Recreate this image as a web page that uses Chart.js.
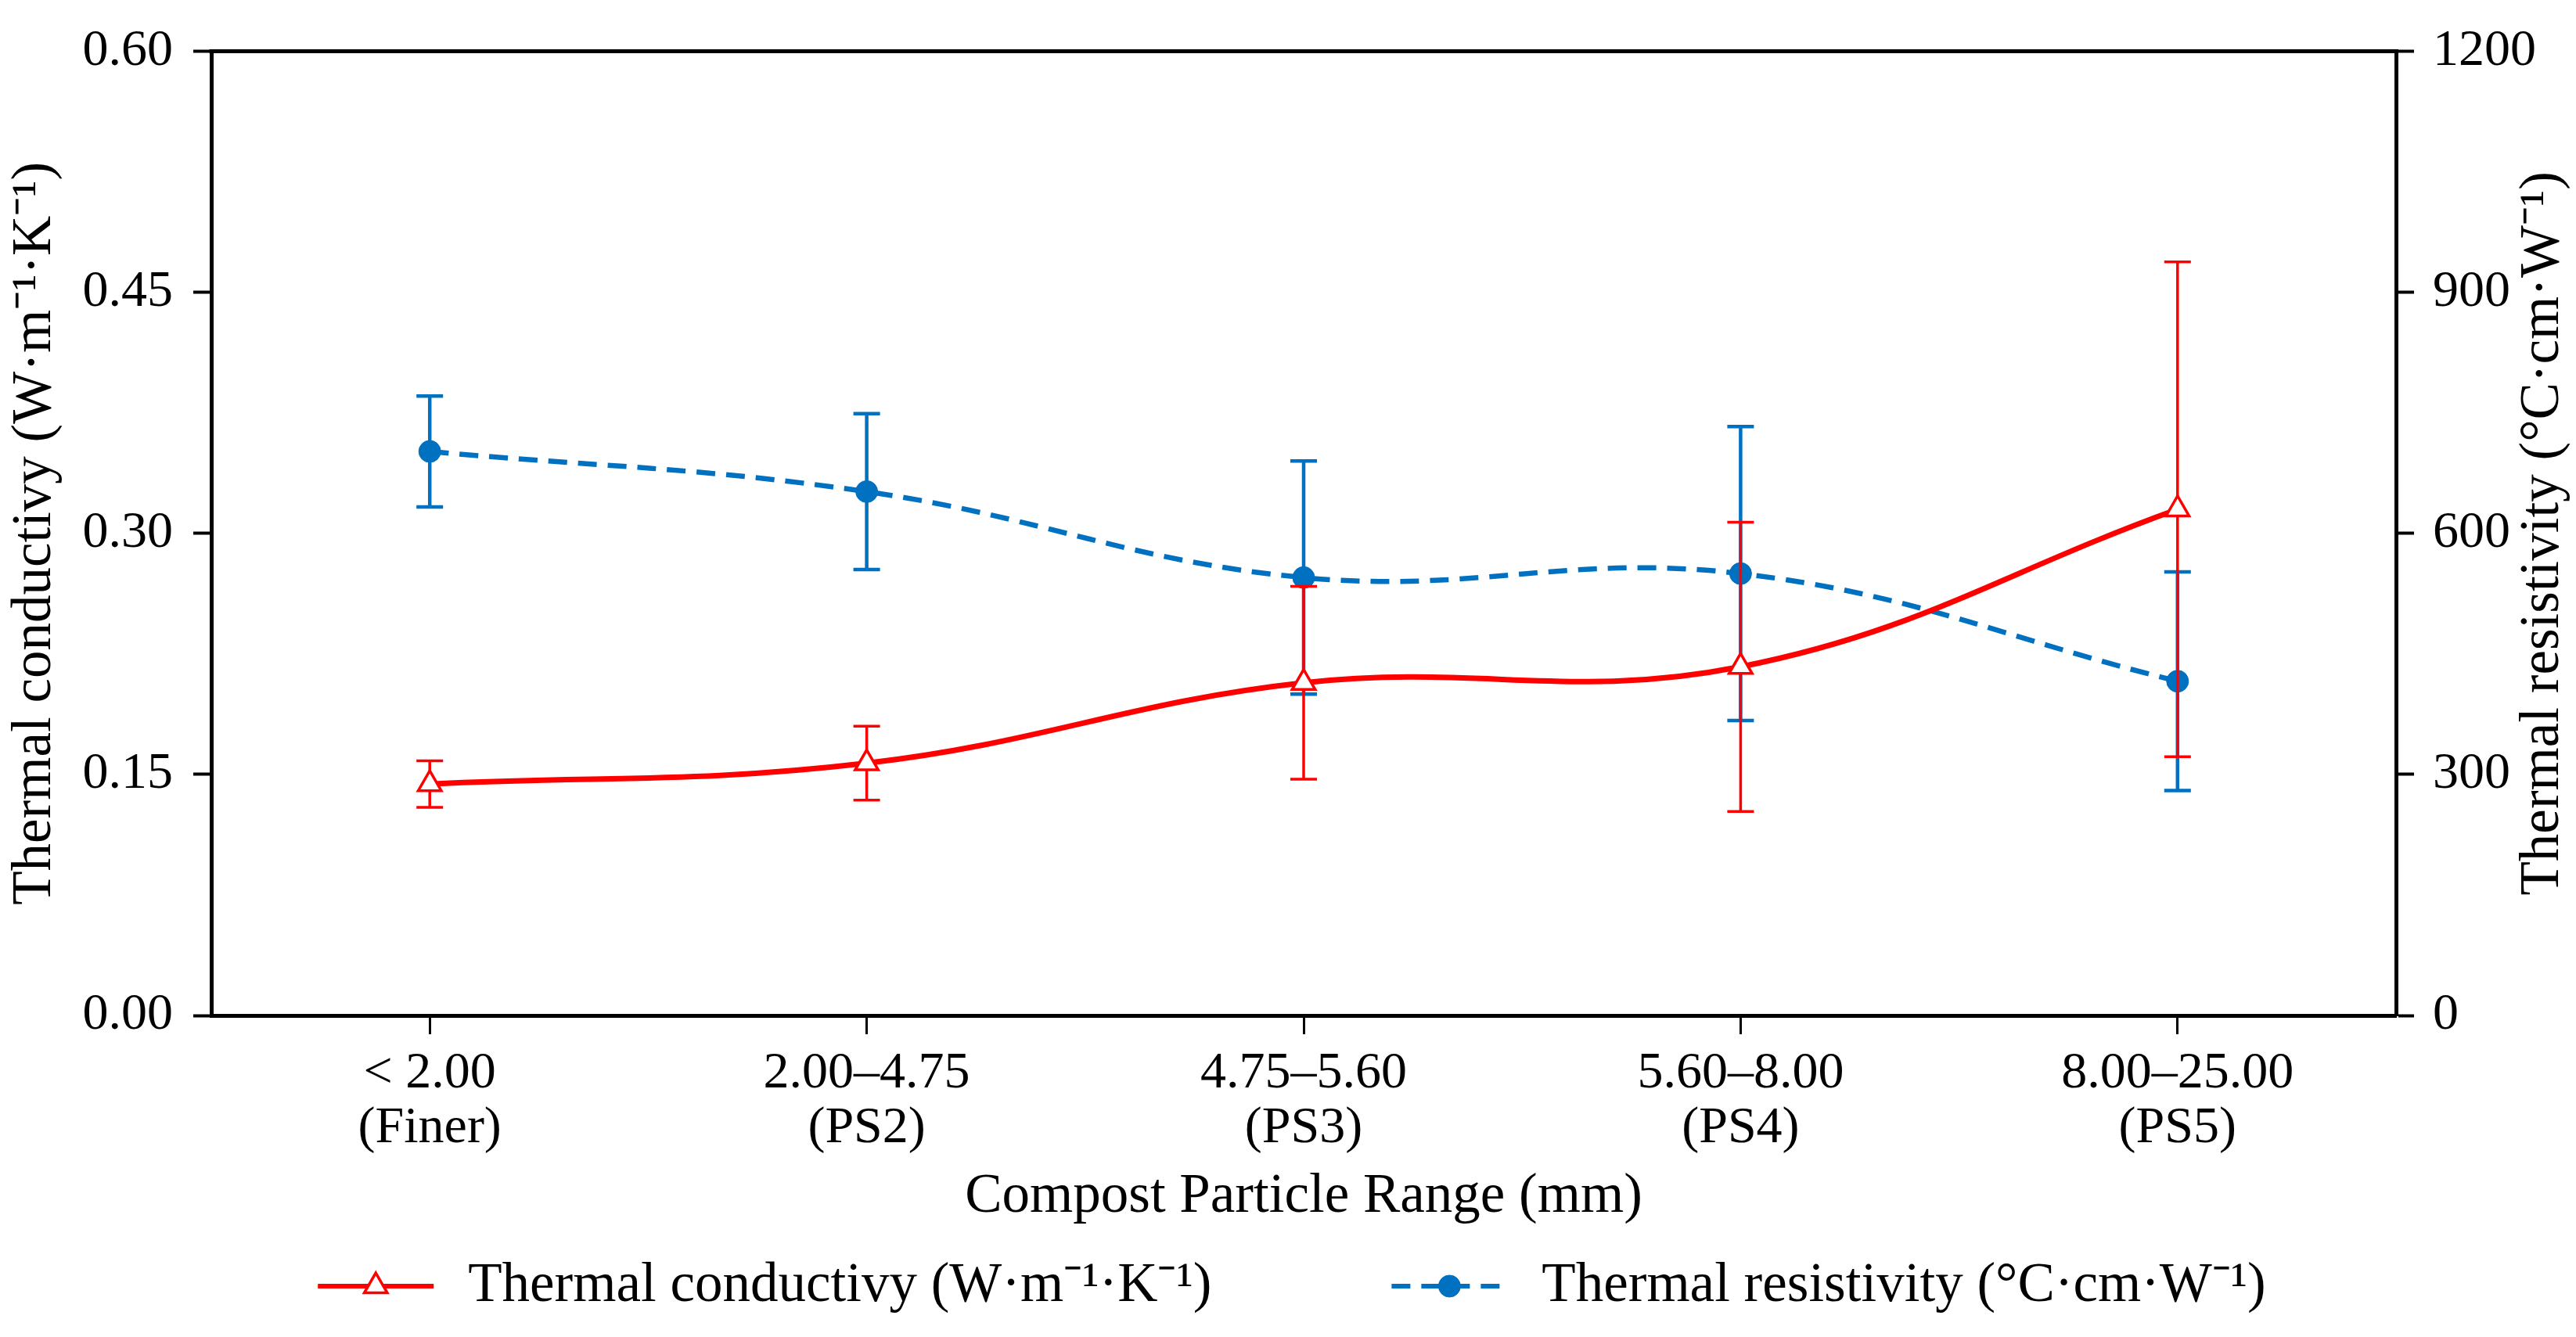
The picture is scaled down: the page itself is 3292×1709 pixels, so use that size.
<!DOCTYPE html>
<html>
<head>
<meta charset="utf-8">
<script src="https://cdn.jsdelivr.net/npm/chart.js@4.4.1/dist/chart.umd.min.js"></script>
<style>
    html, body { margin: 0; padding: 0; background: #ffffff; }
    #wrap { width: 3292px; height: 1709px; }
</style>
</head>
<body>
<div id="wrap"><canvas id="myChart" width="3292" height="1709"></canvas></div>
<script>
const particleRanges = [
    ["< 2.00", "(Finer)"],
    ["2.00\u20134.75", "(PS2)"],
    ["4.75\u20135.60", "(PS3)"],
    ["5.60\u20138.00", "(PS4)"],
    ["8.00\u201325.00", "(PS5)"]
];

// thermal conductivity, W·m-1·K-1 (left axis)
const conductivity = [0.144, 0.157, 0.207, 0.217, 0.315];
const conductivityErr = [0.0145, 0.023, 0.060, 0.090, 0.154];

// thermal resistivity, °C·cm·W-1 (right axis)
const resistivity = [702, 652, 545, 550, 416];
const resistivityErr = [69, 97, 145, 183, 136];

const conductivityTicks = [0, 0.15, 0.30, 0.45, 0.60];
const resistivityTicks = [0, 300, 600, 900, 1200];

const conductivityLabel = "Thermal conductivy (W\u00b7m\u207b\u00b9\u00b7K\u207b\u00b9)";
const resistivityLabel = "Thermal resistivity (\u00b0C\u00b7cm\u00b7W\u207b\u00b9)";
const xLabel = "Compost Particle Range (mm)";

const serif = "'Liberation Serif', 'Times New Roman', serif";
const tickFont = { family: serif, size: 66 };
const titleFont = { family: serif, size: 71 };
const RED = "#ff0000";
const BLUE = "#0070c0";

const ctx = document.getElementById("myChart");

// draws the error bars of a dataset right before the dataset itself
const errorBars = {
    id: "errorBars",
    beforeDatasetDraw(chart, args) {
        const ds = chart.data.datasets[args.index];
        if (!ds.errors) return;
        const yScale = chart.scales[ds.yAxisID];
        const c = chart.ctx;
        c.save();
        c.strokeStyle = ds.borderColor;
        c.lineWidth = ds.errorWidth;
        args.meta.data.forEach((pt, i) => {
            const yTop = yScale.getPixelForValue(ds.data[i] + ds.errors[i]);
            const yBot = yScale.getPixelForValue(ds.data[i] - ds.errors[i]);
            c.beginPath();
            c.moveTo(pt.x, yTop);
            c.lineTo(pt.x, yBot);
            c.moveTo(pt.x - 17, yTop);
            c.lineTo(pt.x + 17, yTop);
            c.moveTo(pt.x - 17, yBot);
            c.lineTo(pt.x + 17, yBot);
            c.stroke();
        });
        c.restore();
    }
};

function drawMarker(c, ds, x, y) {
    c.save();
    c.fillStyle = ds.pointBackgroundColor;
    c.strokeStyle = ds.pointBorderColor;
    c.lineWidth = ds.pointBorderWidth;
    c.setLineDash([]);
    c.beginPath();
    if (ds.pointStyle === "triangle") {
        const r = ds.pointRadius;
        let rad = 0;
        c.moveTo(x + Math.sin(rad) * r, y - Math.cos(rad) * r);
        rad += 2 * Math.PI / 3;
        c.lineTo(x + Math.sin(rad) * r, y - Math.cos(rad) * r);
        rad += 2 * Math.PI / 3;
        c.lineTo(x + Math.sin(rad) * r, y - Math.cos(rad) * r);
        c.closePath();
    } else {
        c.arc(x, y, ds.pointRadius, 0, 2 * Math.PI);
    }
    c.fill();
    c.stroke();
    c.restore();
}

// top frame line, right axis title (reads upwards) and legend
const frame = {
    id: "frame",
    afterDraw(chart) {
        const c = chart.ctx;
        const area = chart.chartArea;
        c.save();
        c.strokeStyle = "#000";
        c.lineWidth = 5;
        c.beginPath();
        c.moveTo(area.left - 2.5, area.top);
        c.lineTo(area.right + 2.5, area.top);
        c.stroke();

        c.fillStyle = "#000";
        c.font = titleFont.size + "px " + serif;
        c.textAlign = "center";
        c.textBaseline = "middle";
        c.save();
        c.translate(3250, (area.top + area.bottom) / 2);
        c.rotate(-Math.PI / 2);
        c.fillText(resistivityLabel, 0, 0);
        c.restore();

        // legend
        const lineW = 148, gap = 44, itemGap = 230, y = 1644;
        const items = chart.data.datasets.map(ds => ({ ds: ds, w: c.measureText(ds.label).width }));
        const total = items.reduce((s, it) => s + lineW + gap + it.w, 0) + itemGap * (items.length - 1);
        let x = (chart.width - total) / 2 + 5;
        c.textAlign = "left";
        for (const it of items) {
            c.save();
            c.strokeStyle = it.ds.borderColor;
            c.lineWidth = 6;
            c.setLineDash(it.ds.borderDash || []);
            c.beginPath();
            c.moveTo(x, y);
            c.lineTo(x + lineW, y);
            c.stroke();
            c.restore();
            drawMarker(c, it.ds, x + lineW / 2, y);
            c.fillStyle = "#000";
            c.fillText(it.ds.label, x + lineW + gap, y);
            x += lineW + gap + it.w + itemGap;
        }
        c.restore();
    }
};

const dataChart = new Chart(ctx, {
    type: "line",
    data: {
        labels: particleRanges,
        datasets: [
            {
                label: conductivityLabel,
                data: conductivity,
                errors: conductivityErr,
                errorWidth: 3.5,
                yAxisID: "y",
                borderColor: RED,
                backgroundColor: RED,
                borderWidth: 7,
                tension: 0.4,
                pointStyle: "triangle",
                pointRadius: 17,
                pointBackgroundColor: "#ffffff",
                pointBorderColor: RED,
                pointBorderWidth: 3.5
            },
            {
                label: resistivityLabel,
                data: resistivity,
                errors: resistivityErr,
                errorWidth: 4.5,
                yAxisID: "y1",
                borderColor: BLUE,
                backgroundColor: BLUE,
                borderWidth: 6.5,
                borderDash: [24, 14],
                tension: 0.4,
                pointStyle: "circle",
                pointRadius: 14,
                pointBackgroundColor: BLUE,
                pointBorderColor: BLUE,
                pointBorderWidth: 1
            }
        ]
    },
    options: {
        responsive: false,
        devicePixelRatio: 1,
        animation: false,
        layout: {
            padding: { top: 54, left: 0, right: 0, bottom: 121 }
        },
        plugins: {
            legend: { display: false },
            tooltip: { enabled: false }
        },
        scales: {
            x: {
                type: "category",
                offset: true,
                border: { display: true, color: "#000", width: 5 },
                grid: {
                    display: true,
                    drawOnChartArea: false,
                    drawTicks: true,
                    tickLength: 24,
                    tickWidth: 3,
                    tickColor: "#000"
                },
                ticks: {
                    color: "#000",
                    font: { family: serif, size: 66, lineHeight: 1.06 },
                    padding: 16,
                    maxRotation: 0,
                    autoSkip: false
                },
                title: {
                    display: true,
                    text: xLabel,
                    color: "#000",
                    font: titleFont,
                    padding: { top: 0, bottom: 15 }
                },
                afterFit: s => { s.height = 290; }
            },
            y: {
                position: "left",
                min: 0,
                max: 0.6,
                afterBuildTicks: s => { s.ticks = conductivityTicks.map(v => ({ value: v })); },
                border: { display: true, color: "#000", width: 5 },
                grid: {
                    display: true,
                    drawOnChartArea: false,
                    drawTicks: true,
                    tickLength: 23,
                    tickWidth: 4,
                    tickColor: "#000"
                },
                ticks: {
                    color: "#000",
                    font: tickFont,
                    padding: 26,
                    callback: v => v.toFixed(2)
                },
                title: {
                    display: true,
                    text: conductivityLabel,
                    color: "#000",
                    font: titleFont,
                    padding: { top: 3, bottom: 0 }
                },
                afterFit: s => { s.width = 270; }
            },
            y1: {
                position: "right",
                min: 0,
                max: 1200,
                afterBuildTicks: s => { s.ticks = resistivityTicks.map(v => ({ value: v })); },
                border: { display: true, color: "#000", width: 5 },
                grid: {
                    display: true,
                    drawOnChartArea: false,
                    drawTicks: true,
                    tickLength: 23,
                    tickWidth: 4,
                    tickColor: "#000"
                },
                ticks: {
                    color: "#000",
                    font: tickFont,
                    padding: 24,
                    callback: v => String(v)
                },
                title: { display: false },
                afterFit: s => { s.width = 230; }
            }
        }
    },
    plugins: [errorBars, frame]
});
</script>
</body>
</html>
